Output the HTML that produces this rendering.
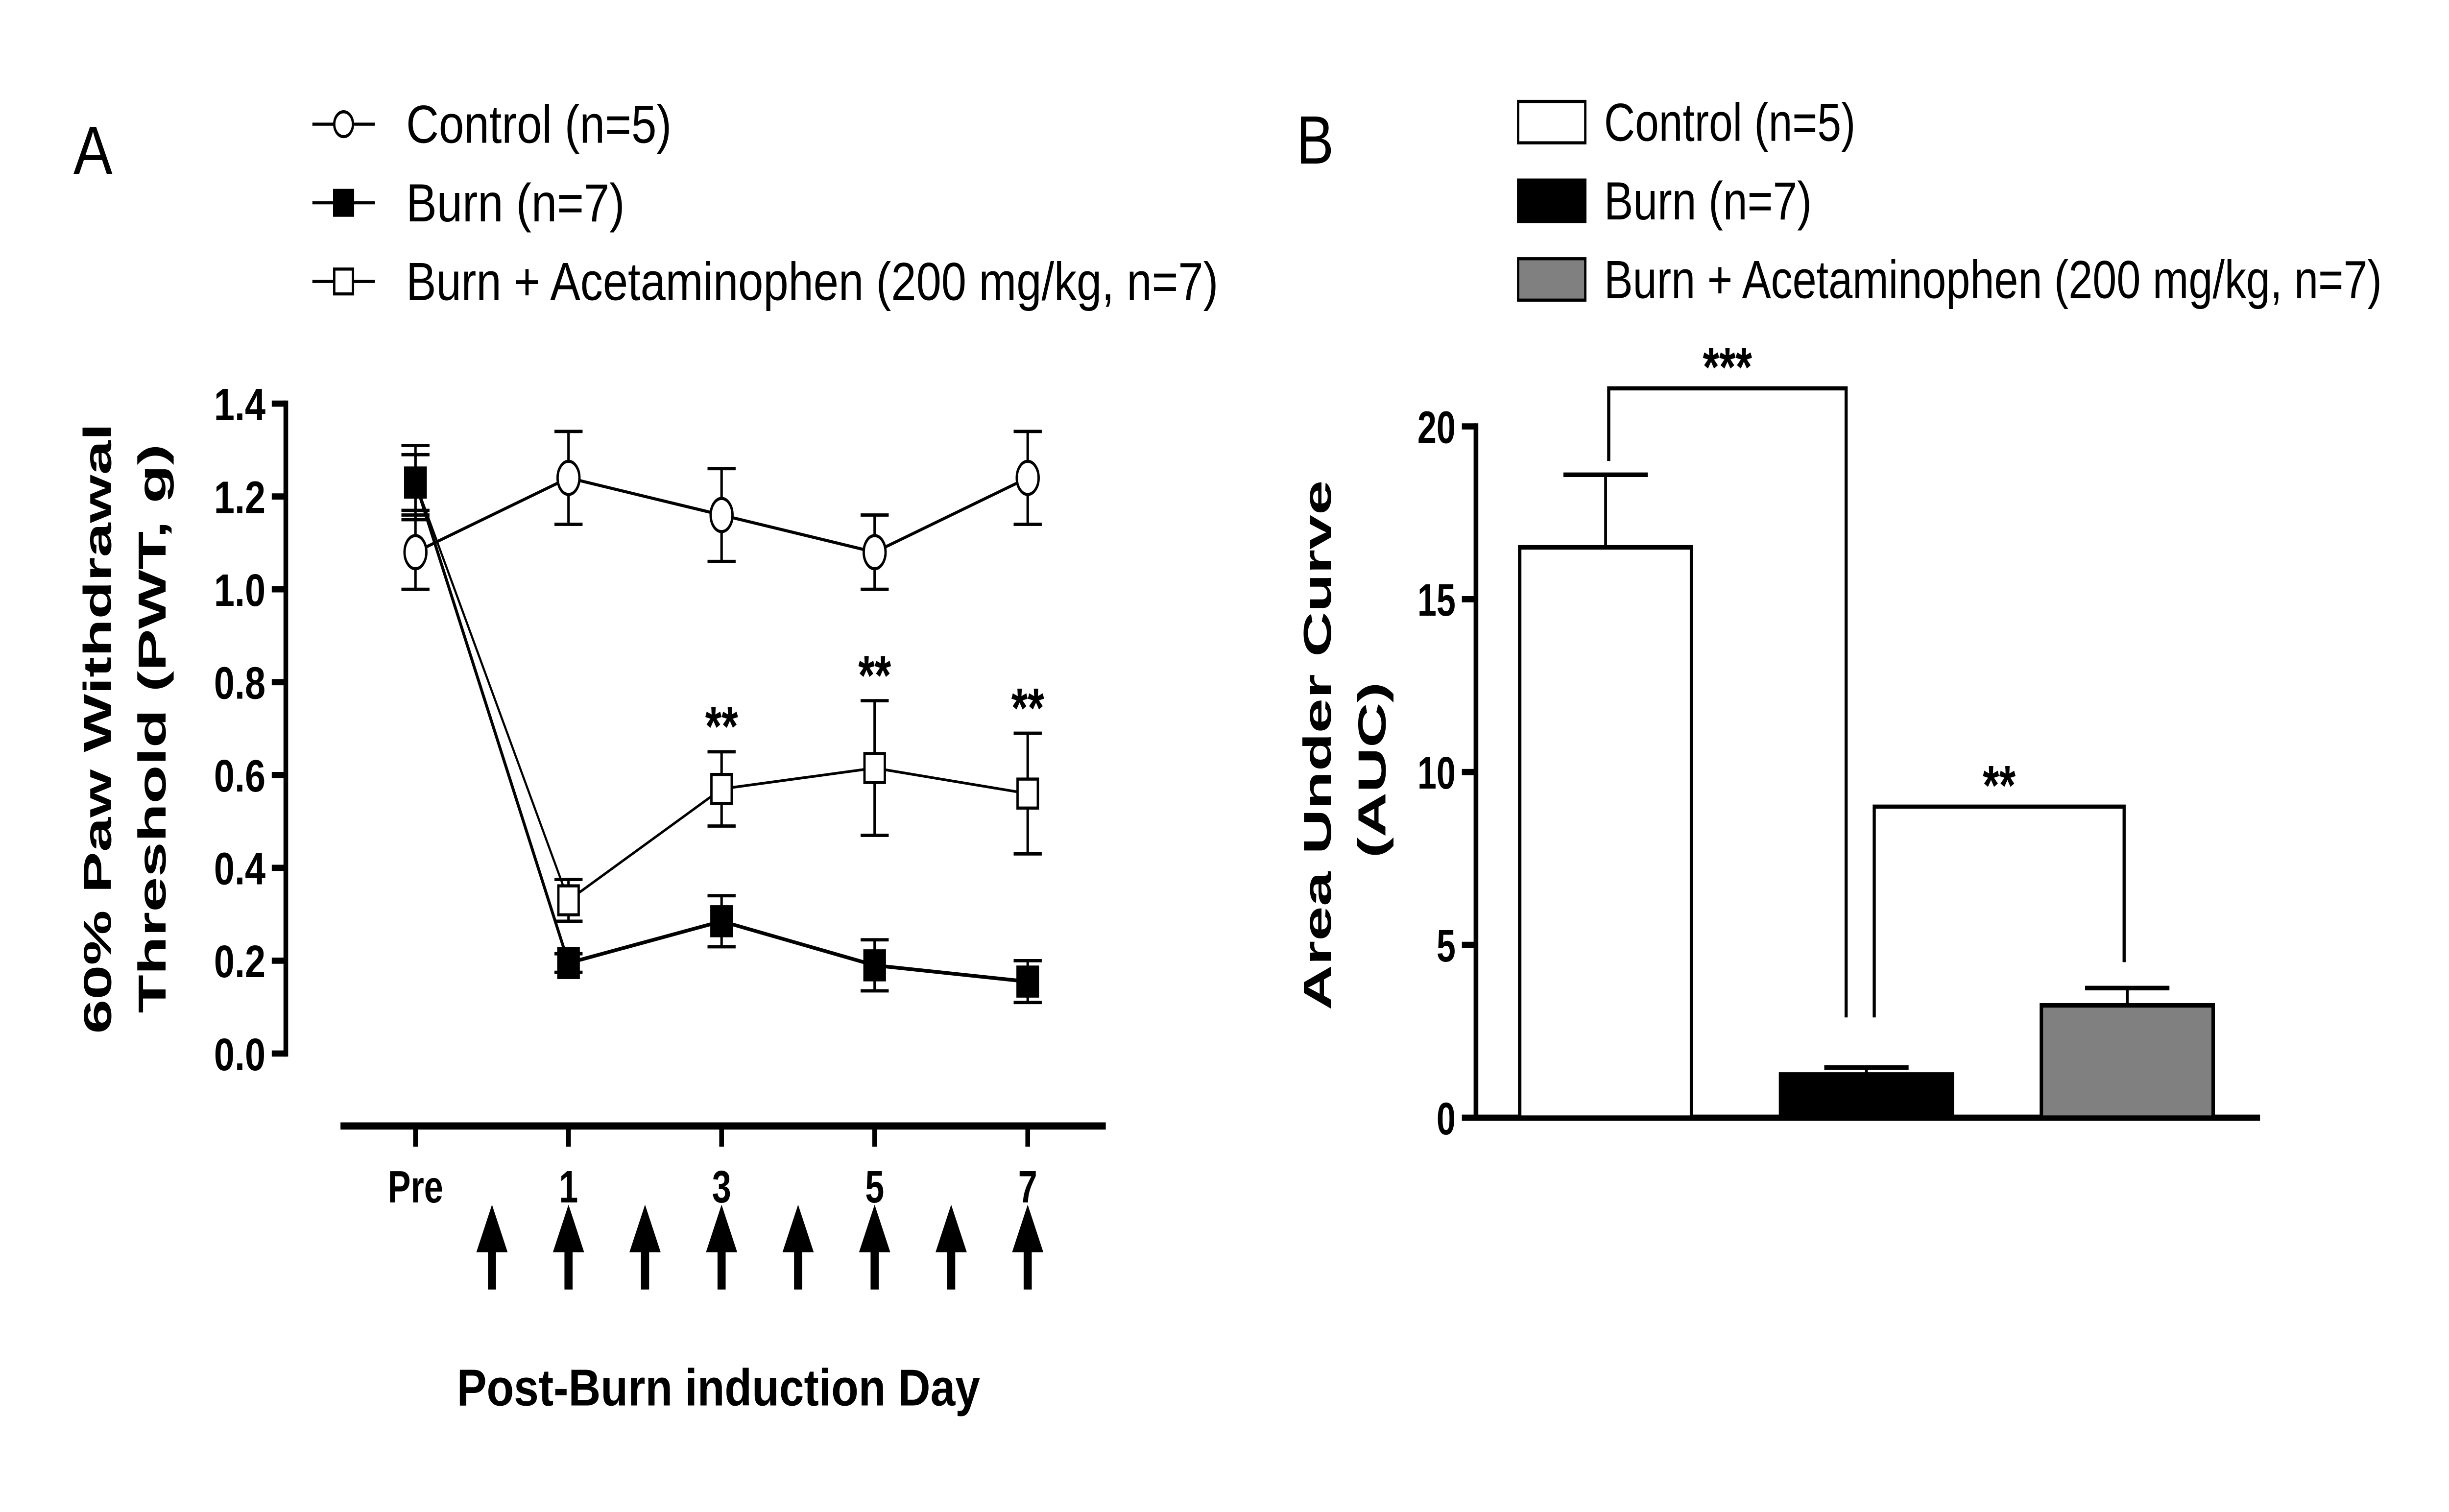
<!DOCTYPE html>
<html><head><meta charset="utf-8"><style>
html,body{margin:0;padding:0;background:#fff;overflow:hidden;width:100%;height:100%;}
svg{display:block;position:absolute;left:0;top:0;width:100vw;height:100vh;}
text{font-family:"Liberation Sans",Arial,sans-serif;fill:#000;}
.b{font-weight:bold;}
</style></head><body>
<svg id="fig" viewBox="0 0 1568 730.5" preserveAspectRatio="none" xmlns="http://www.w3.org/2000/svg">
<rect width="1568" height="730.5" fill="#fff"/>
<g id="panelA"></g>
<g id="panelB"></g>
</svg>
<script>
// ---------- Panel A data ----------
const daysA = [-1, 1, 3, 5, 7];
const dayLabels = ["Pre", "1", "3", "5", "7"];
const arrowDays = [0, 1, 2, 3, 4, 5, 6, 7];
const yTicksA = [0, 0.2, 0.4, 0.6, 0.8, 1.0, 1.2, 1.4];
const yTickLabelsA = ["0.0", "0.2", "0.4", "0.6", "0.8", "1.0", "1.2", "1.4"];
const controlMean = [1.08, 1.24, 1.16, 1.08, 1.24];
const controlErr = [0.08, 0.10, 0.10, 0.08, 0.10];
const burnMean = [1.23, 0.195, 0.285, 0.19, 0.155];
const burnErr = [0.08, 0.02, 0.055, 0.055, 0.045];
const acetMean = [1.23, 0.33, 0.57, 0.615, 0.56];
const acetErr = [0.06, 0.045, 0.08, 0.145, 0.13];
const acetStars = ["", "", "**", "**", "**"];

// ---------- Panel B data ----------
const groupsB = ["Control (n=5)", "Burn (n=7)", "Burn + Acetaminophen (200 mg/kg, n=7)"];
const aucMean = [16.5, 1.25, 3.25];
const aucErr = [2.1, 0.2, 0.5];
const yTicksB = [0, 5, 10, 15, 20];

const NS = "http://www.w3.org/2000/svg";
function mk(parent, tag, attrs, txt){
  const e = document.createElementNS(NS, tag);
  for (const k in attrs) e.setAttribute(k, attrs[k]);
  if (txt !== undefined) e.textContent = txt;
  parent.appendChild(e);
  return e;
}
const A = document.getElementById("panelA");
const B = document.getElementById("panelB");
const LA = "spacingAndGlyphs";

const xA = d => 364 + 49 * (d - 1);
const yA = v => 509 - v * (314 / 1.4);
const xB = i => 1028 + 167 * i;
const yB = v => 540 - v * (334 / 20);

// ---- Panel A ----
let t = mk(A, "text", {x: 47, y: 84, "font-size": 33, textLength: 25, lengthAdjust: LA});
t.textContent = "A";



const legA = [["Control (n=5)", "circle", "#fff", 170], ["Burn (n=7)", "square", "#000", 140], ["Burn + Acetaminophen (200 mg/kg, n=7)", "square", "#fff", 520]];
legA.forEach((l, i) => {
  const y = 60 + 38 * i;
  const g = mk(A, "g", {});
  
  
  mk(g, "line", {x1: 200, y1: y, x2: 240, y2: y, stroke: "#000", "stroke-width": 1.5});
  if (l[1] === "circle") mk(g, "circle", {cx: 220, cy: y, r: 6, fill: l[2], stroke: "#000", "stroke-width": 1.5});
  else mk(g, "rect", {x: 214, y: y - 6, width: 12, height: 12, fill: l[2], stroke: "#000", "stroke-width": 1.5});
  mk(g, "text", {x: 260, y: y + 9, "font-size": 26, textLength: l[3], lengthAdjust: LA}, l[0]);
});

const yaxA = mk(A, "g", {});


mk(yaxA, "line", {x1: 183, y1: yA(1.4) - 1.5, x2: 183, y2: yA(0) + 1.5, stroke: "#000", "stroke-width": 3});
yTicksA.forEach((v, i) => {
  mk(yaxA, "line", {x1: 174, y1: yA(v), x2: 183, y2: yA(v), stroke: "#000", "stroke-width": 3});
  mk(yaxA, "text", {x: 170, y: yA(v) + 8, "font-size": 22, "text-anchor": "end", class: "b", textLength: 33, lengthAdjust: LA}, yTickLabelsA[i]);
});
t = mk(A, "text", {x: 0, y: 0, "font-size": 25, class: "b", "text-anchor": "middle", textLength: 295, lengthAdjust: LA, transform: "translate(71,352) rotate(-90)"}, "60% Paw Withdrawal");


t = mk(A, "text", {x: 0, y: 0, "font-size": 25, class: "b", "text-anchor": "middle", textLength: 275, lengthAdjust: LA, transform: "translate(106,352) rotate(-90)"}, "Threshold (PWT, g)");



const xaxA = mk(A, "g", {});


mk(xaxA, "line", {x1: 218, y1: 544, x2: 708, y2: 544, stroke: "#000", "stroke-width": 3.5});
daysA.forEach((d, i) => {
  mk(xaxA, "line", {x1: xA(d), y1: 544, x2: xA(d), y2: 554, stroke: "#000", "stroke-width": 3});
  mk(xaxA, "text", {x: xA(d), y: 581, "font-size": 22, "text-anchor": "middle", class: "b"}, dayLabels[i]);
});
arrowDays.forEach(d => {
  const x = xA(d);
  const ar = mk(A, "path", {d: `M${x-10},605 L${x},582 L${x+10},605 L${x+2.6},605 L${x+2.6},623 L${x-2.6},623 L${x-2.6},605 Z`, fill: "#000"});
  
  
});
t = mk(A, "text", {x: 460, y: 679, "font-size": 25, "text-anchor": "middle", class: "b", textLength: 335, lengthAdjust: LA}, "Post-Burn induction Day");



function series(name, mean, err, marker, fill, lw) {
  const g = mk(A, "g", {});
  
  
  const pts = daysA.map((d, i) => xA(d) + "," + yA(mean[i])).join(" ");
  mk(g, "polyline", {points: pts, fill: "none", stroke: "#000", "stroke-width": lw});
  daysA.forEach((d, i) => {
    const x = xA(d), hi = yA(mean[i] + err[i]), lo = yA(mean[i] - err[i]);
    mk(g, "line", {x1: x, y1: hi, x2: x, y2: lo, stroke: "#000", "stroke-width": 1.6});
    mk(g, "line", {x1: x - 9, y1: hi, x2: x + 9, y2: hi, stroke: "#000", "stroke-width": 1.6});
    mk(g, "line", {x1: x - 9, y1: lo, x2: x + 9, y2: lo, stroke: "#000", "stroke-width": 1.6});
  });
  daysA.forEach((d, i) => {
    const x = xA(d), y = yA(mean[i]);
    let m;
    if (marker === "circle") m = mk(g, "ellipse", {cx: x, cy: y, rx: 7, ry: 8, fill: fill, stroke: "#000", "stroke-width": 1.5});
    else m = mk(g, "rect", {x: x - 6.5, y: y - 7, width: 13, height: 14, fill: fill, stroke: "#000", "stroke-width": 1.5});
    
    
  });
}
series("series-acetaminophen", acetMean, acetErr, "square", "#fff", 1.3);
series("series-burn", burnMean, burnErr, "square", "#000", 1.8);
series("series-control", controlMean, controlErr, "circle", "#fff", 1.5);
daysA.forEach((d, i) => {
  if (!acetStars[i]) return;
  const s = mk(A, "text", {x: xA(d), y: yA(acetMean[i] + acetErr[i]) - 3, "font-size": 27, "text-anchor": "middle", class: "b"}, acetStars[i]);
  
  
});

// ---- Panel B ----
t = mk(B, "text", {x: 830, y: 79, "font-size": 33, textLength: 24, lengthAdjust: LA}, "B");


const fills = ["#fff", "#000", "#808080"];
const legBLen = [161, 133, 498];
groupsB.forEach((gname, i) => {
  const y = 59 + 38 * i;
  const g = mk(B, "g", {});
  
  
  mk(g, "rect", {x: 972, y: y - 10, width: 43, height: 20, fill: fills[i], stroke: "#000", "stroke-width": 1.5});
  mk(g, "text", {x: 1027, y: y + 9, "font-size": 26, textLength: legBLen[i], lengthAdjust: LA}, gname);
});
const yaxB = mk(B, "g", {});


mk(yaxB, "line", {x1: 945, y1: yB(20) - 1.5, x2: 945, y2: yB(0), stroke: "#000", "stroke-width": 3});
yTicksB.forEach(v => {
  mk(yaxB, "line", {x1: 936, y1: yB(v), x2: 945, y2: yB(v), stroke: "#000", "stroke-width": 3});
  mk(yaxB, "text", {x: 932, y: yB(v) + 8, "font-size": 22, "text-anchor": "end", class: "b"}, String(v));
});
const xaxB = mk(B, "line", {x1: 944, y1: 540, x2: 1447, y2: 540, stroke: "#000", "stroke-width": 3});


t = mk(B, "text", {x: 0, y: 0, "font-size": 25, class: "b", "text-anchor": "middle", textLength: 256, lengthAdjust: LA, transform: "translate(852,360) rotate(-90)"}, "Area Under Curve");


t = mk(B, "text", {x: 0, y: 0, "font-size": 25, class: "b", "text-anchor": "middle", textLength: 85, lengthAdjust: LA, transform: "translate(887,372) rotate(-90)"}, "(AUC)");



aucMean.forEach((v, i) => {
  const cx = xB(i);
  const g = mk(B, "g", {});
  
  
  const top = yB(aucMean[i] + aucErr[i]);
  mk(g, "line", {x1: cx, y1: yB(v), x2: cx, y2: top, stroke: "#000", "stroke-width": 1.8});
  mk(g, "line", {x1: cx - 27, y1: top, x2: cx + 27, y2: top, stroke: "#000", "stroke-width": 2.2});
  mk(g, "rect", {x: cx - 55, y: yB(v), width: 110, height: yB(0) - yB(v), fill: fills[i], stroke: "#000", "stroke-width": 2.2});
});
function bracket(i1, i2, yv, l1, l2, stars, off1, off2) {
  const g = mk(B, "g", {});
  
  
  const x1 = xB(i1) + off1, x2 = xB(i2) + off2, y = yB(yv);
  mk(g, "polyline", {points: `${x1},${yB(l1)} ${x1},${y} ${x2},${y} ${x2},${yB(l2)}`, fill: "none", stroke: "#000", "stroke-width": 2});
  mk(g, "text", {x: (x1 + x2) / 2, y: y - 1, "font-size": 27, "text-anchor": "middle", class: "b"}, stars);
}
bracket(0, 1, 21.1, 19.0, 2.9, "***", 2, -13);
bracket(1, 2, 9.0, 2.9, 4.5, "**", 5, -2);
</script>
</body></html>
